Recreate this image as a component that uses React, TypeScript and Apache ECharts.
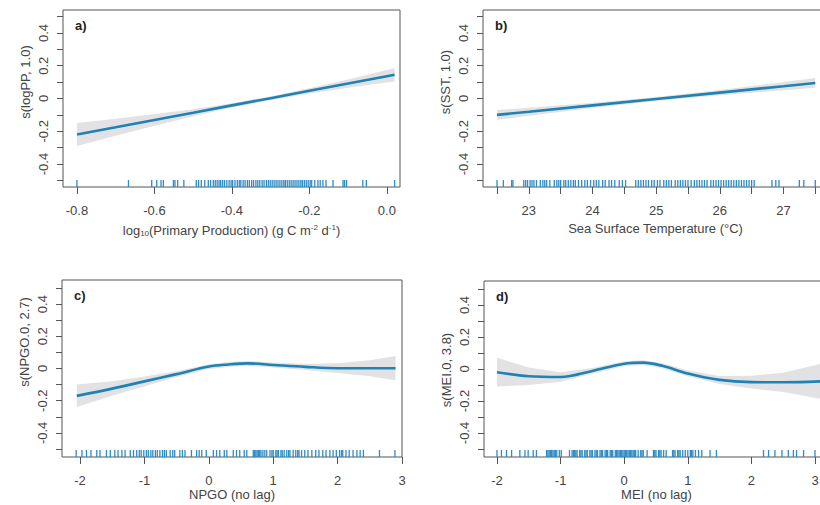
import React, { useEffect, useRef } from 'react';
import * as echarts from 'echarts';

// ---------- shared axis ticks ----------
const yTicks = [-0.5, -0.4, -0.3, -0.2, -0.1, 0, 0.1, 0.2, 0.3, 0.4, 0.5];
const yLabels = [-0.4, -0.2, 0, 0.2, 0.4];

// ---------- panel a : log10 primary production ----------
const aX = [-0.8, -0.7, -0.6, -0.5, -0.4, -0.3, -0.2, -0.1, 0.0, 0.02];
const aFit = [-0.22, -0.176, -0.131, -0.087, -0.042, 0.002, 0.047, 0.091, 0.136, 0.145];
const aUpper = [-0.15, -0.124, -0.095, -0.065, -0.029, 0.014, 0.063, 0.116, 0.174, 0.186];
const aLower = [-0.29, -0.228, -0.167, -0.109, -0.055, -0.01, 0.031, 0.066, 0.098, 0.104];
const aTicks = [-0.8, -0.6, -0.4, -0.2, 0.0];
const aRug = [
  -0.8, -0.667, -0.607, -0.594, -0.583, -0.577, -0.551, -0.547, -0.54, -0.524, -0.492, -0.486,
  -0.479, -0.47, -0.461, -0.455, -0.448, -0.443, -0.438, -0.433, -0.429, -0.424, -0.419, -0.413,
  -0.407, -0.402, -0.398, -0.392, -0.386, -0.381, -0.377, -0.371, -0.366, -0.36, -0.355, -0.349,
  -0.344, -0.338, -0.333, -0.328, -0.322, -0.317, -0.311, -0.306, -0.301, -0.296, -0.291, -0.286,
  -0.281, -0.276, -0.271, -0.266, -0.262, -0.257, -0.252, -0.247, -0.242, -0.237, -0.232, -0.227,
  -0.222, -0.218, -0.213, -0.208, -0.203, -0.198, -0.194, -0.186, -0.178, -0.172, -0.165, -0.157,
  -0.139, -0.113, -0.109, -0.104, -0.062, -0.053, 0.02,
];

// ---------- panel b : sea surface temperature ----------
const bX = [22.5, 23, 24, 25, 26, 27, 27.5];
const bFit = [-0.1, -0.081, -0.042, -0.003, 0.036, 0.075, 0.095];
const bUpper = [-0.07, -0.056, -0.026, 0.009, 0.052, 0.1, 0.125];
const bLower = [-0.13, -0.106, -0.058, -0.015, 0.02, 0.05, 0.065];
const bTicks = [22.5, 23, 23.5, 24, 24.5, 25, 25.5, 26, 26.5, 27, 27.5];
const bLabels = [23, 24, 25, 26, 27];
const bRug = [
  22.5, 22.6, 22.73, 22.75, 22.92, 22.95, 22.98, 23.02, 23.05, 23.08, 23.12, 23.18, 23.22, 23.25,
  23.28, 23.33, 23.4, 23.44, 23.47, 23.5, 23.55, 23.58, 23.62, 23.66, 23.7, 23.73, 23.78, 23.83,
  23.88, 23.92, 23.97, 24.02, 24.06, 24.1, 24.16, 24.2, 24.26, 24.3, 24.35, 24.42, 24.47, 24.52,
  24.68, 24.72, 24.76, 24.8, 24.84, 24.88, 24.93, 24.97, 25.02, 25.06, 25.12, 25.16, 25.2, 25.24,
  25.3, 25.34, 25.38, 25.42, 25.46, 25.5, 25.55, 25.6, 25.64, 25.68, 25.72, 25.76, 25.8, 25.86,
  25.9, 25.94, 25.98, 26.02, 26.06, 26.1, 26.14, 26.18, 26.22, 26.26, 26.3, 26.34, 26.38, 26.42,
  26.46, 26.5, 26.54, 26.82, 26.88, 26.93, 27.25, 27.32, 27.5,
];

// ---------- panel c : NPGO ----------
const cX = [-2.05, -1.5, -1.0, -0.5, 0.0, 0.3, 0.6, 1.0, 1.5, 2.0, 2.5, 2.9];
const cFit = [-0.17, -0.125, -0.08, -0.035, 0.012, 0.025, 0.032, 0.022, 0.01, 0.002, 0.002, 0.002];
const cUpper = [-0.1, -0.08, -0.05, -0.017, 0.027, 0.04, 0.047, 0.038, 0.03, 0.032, 0.052, 0.077];
const cLower = [-0.24, -0.17, -0.11, -0.053, -0.003, 0.01, 0.017, 0.006, -0.01, -0.028, -0.048, -0.073];
const cTicks = [-2, -1, 0, 1, 2, 3];
const cRug = [
  -2.06, -1.97, -1.9, -1.83, -1.74, -1.69, -1.59, -1.53, -1.46, -1.41, -1.35, -1.3, -1.22, -1.17,
  -1.12, -1.08, -1.05, -1.01, -0.97, -0.94, -0.9, -0.87, -0.83, -0.8, -0.76, -0.72, -0.69, -0.66,
  -0.6, -0.56, -0.53, -0.45, -0.41, -0.37, -0.27, -0.19, -0.15, -0.11, -0.04, 0.07, 0.12, 0.17,
  0.24, 0.28, 0.38, 0.43, 0.48, 0.55, 0.59, 0.69, 0.71, 0.73, 0.75, 0.77, 0.79, 0.81, 0.84, 0.87,
  0.9, 0.95, 0.98, 1.0, 1.04, 1.06, 1.08, 1.12, 1.14, 1.17, 1.21, 1.24, 1.26, 1.31, 1.35, 1.38,
  1.4, 1.44, 1.49, 1.54, 1.6, 1.66, 1.71, 1.77, 1.82, 1.88, 1.93, 1.98, 2.03, 2.06, 2.08, 2.13,
  2.18, 2.24, 2.3, 2.35, 2.4, 2.65, 2.89,
];

// ---------- panel d : MEI ----------
const dX = [-2.0, -1.5, -1.0, -0.5, 0.0, 0.3, 0.6, 1.0, 1.5, 2.0, 2.5, 3.1];
const dFit = [-0.02, -0.045, -0.05, -0.012, 0.033, 0.04, 0.02, -0.028, -0.068, -0.082, -0.083, -0.077];
const dUpper = [0.07, 0.01, -0.02, 0.006, 0.048, 0.055, 0.036, -0.01, -0.043, -0.042, -0.023, 0.033];
const dLower = [-0.11, -0.1, -0.08, -0.03, 0.018, 0.025, 0.004, -0.046, -0.093, -0.122, -0.143, -0.187];
const dTicks = [-2, -1, 0, 1, 2, 3];
const dRug = [
  -2.0, -1.93, -1.85, -1.77, -1.64, -1.56, -1.51, -1.43, -1.38, -1.22, -1.2, -1.18, -1.16, -1.14,
  -1.12, -1.1, -1.08, -1.06, -1.02, -0.99, -0.86, -0.82, -0.8, -0.78, -0.76, -0.74, -0.7, -0.68,
  -0.66, -0.62, -0.6, -0.58, -0.54, -0.52, -0.5, -0.46, -0.44, -0.42, -0.38, -0.36, -0.34, -0.3,
  -0.28, -0.26, -0.22, -0.2, -0.18, -0.14, -0.12, -0.1, -0.08, -0.06, -0.04, -0.02, 0.0, 0.02, 0.04,
  0.06, 0.08, 0.1, 0.12, 0.14, 0.16, 0.18, 0.22, 0.26, 0.28, 0.3, 0.36, 0.46, 0.48, 0.5, 0.54,
  0.56, 0.58, 0.62, 0.66, 0.76, 0.78, 0.8, 0.84, 0.86, 0.88, 0.92, 0.96, 1.0, 1.04, 1.06, 1.08,
  1.12, 1.17, 1.22, 1.35, 1.45, 2.19, 2.27, 2.37, 2.48, 2.58, 2.66, 2.71, 2.82, 3.0,
];

const FONT = '"Liberation Sans", Arial, Helvetica, sans-serif';
const TEXT = '#444';
const AXIS = '#555';
const LINE = '#1f82b5';
const BAND = '#e2e2e4';
const RUG = '#2f8bc4';

type Panel = {
  tag: string;
  x: number[];
  fit: number[];
  upper: number[];
  lower: number[];
  rug: number[];
  xTicks: number[];
  xLabels: number[];
  xDigits: number;
  xMin: number;
  xMax: number;
  yMin: number;
  yMax: number;
  grid: { left: number; top: number; width: number; height: number };
  xName: string;
  xNameGap: number;
  yName: string;
  yNameX: number;
  yNameY: number;
  smooth: number;
};

const panels: Panel[] = [
  {
    tag: 'a)', x: aX, fit: aFit, upper: aUpper, lower: aLower, rug: aRug,
    xTicks: aTicks, xLabels: aTicks, xDigits: 1, xMin: -0.836, xMax: 0.034,
    yMin: -0.54, yMax: 0.54, grid: { left: 63, top: 10, width: 337, height: 177 },
    xName: '{n|log}{sub|10}{n|(Primary Production) (g C m}{sup|-2}{n| d}{sup|-1}{n|)}',
    xNameGap: 36,
    yName: 's(logPP, 1.0)', yNameX: 25, yNameY: 82, smooth: 0,
  },
  {
    tag: 'b)', x: bX, fit: bFit, upper: bUpper, lower: bLower, rug: bRug,
    xTicks: bTicks, xLabels: bLabels, xDigits: 0, xMin: 22.28, xMax: 27.7,
    yMin: -0.54, yMax: 0.54, grid: { left: 483, top: 10, width: 345, height: 177 },
    xName: '{n|Sea Surface Temperature (°C)}',
    xNameGap: 35,
    yName: 's(SST, 1.0)', yNameX: 445, yNameY: 82, smooth: 0,
  },
  {
    tag: 'c)', x: cX, fit: cFit, upper: cUpper, lower: cLower, rug: cRug,
    xTicks: cTicks, xLabels: cTicks, xDigits: 0, xMin: -2.28, xMax: 3.0,
    yMin: -0.55, yMax: 0.55, grid: { left: 62, top: 280, width: 340, height: 177 },
    xName: '{n|NPGO (no lag)}',
    xNameGap: 31,
    yName: 's(NPGO.0, 2.7)', yNameX: 24, yNameY: 342, smooth: 0.35,
  },
  {
    tag: 'd)', x: dX, fit: dFit, upper: dUpper, lower: dLower, rug: dRug,
    xTicks: dTicks, xLabels: dTicks, xDigits: 0, xMin: -2.204, xMax: 3.22,
    yMin: -0.55, yMax: 0.55, grid: { left: 484, top: 281, width: 345, height: 176 },
    xName: '{n|MEI (no lag)}',
    xNameGap: 31,
    yName: 's(MEI.0, 3.8)', yNameX: 446, yNameY: 370, smooth: 0.35,
  },
];

function buildOption() {
  const grid: any[] = [];
  const xAxis: any[] = [];
  const yAxis: any[] = [];
  const series: any[] = [];
  const graphic: any[] = [];

  panels.forEach((p, i) => {
    grid.push({
      ...p.grid,
      show: true,
      borderColor: AXIS,
      borderWidth: 1,
      backgroundColor: 'transparent',
      containLabel: false,
      outerBoundsMode: 'none',
    });
    xAxis.push({
      type: 'value',
      gridIndex: i,
      min: p.xMin,
      max: p.xMax,
      axisLine: { show: false, onZero: false },
      splitLine: { show: false },
      axisTick: { show: true, length: 7, lineStyle: { color: AXIS }, customValues: p.xTicks },
      axisLabel: {
        show: true,
        customValues: p.xLabels,
        margin: 17,
        color: TEXT,
        fontSize: 13,
        fontFamily: FONT,
        formatter: (v: number) => v.toFixed(p.xDigits),
      },
      name: p.xName,
      nameLocation: 'middle',
      nameGap: p.xNameGap,
      nameTextStyle: {
        color: TEXT,
        fontFamily: FONT,
        rich: {
          n: { fontSize: 13, color: TEXT, fontFamily: FONT },
          sub: { fontSize: 8, color: TEXT, fontFamily: FONT, padding: [6, 0, 0, 0] },
          sup: { fontSize: 8, color: TEXT, fontFamily: FONT, padding: [0, 0, 6, 0] },
        },
      },
    });
    yAxis.push({
      type: 'value',
      gridIndex: i,
      min: p.yMin,
      max: p.yMax,
      axisLine: { show: false, onZero: false },
      splitLine: { show: false },
      axisTick: { show: true, length: 6, lineStyle: { color: AXIS }, customValues: yTicks },
      axisLabel: {
        show: true,
        customValues: yLabels,
        rotate: 90,
        margin: 13,
        color: TEXT,
        fontSize: 13,
        fontFamily: FONT,
        formatter: (v: number) => (Math.abs(v) < 1e-9 ? '0' : v.toFixed(1)),
      },
    });

    // confidence band
    series.push({
      type: 'custom',
      xAxisIndex: i,
      yAxisIndex: i,
      silent: true,
      z: 1,
      data: [[p.x[0], p.fit[0]]],
      renderItem: (params: any, api: any) => {
        if (params.dataIndex !== 0) return null;
        const pts: number[][] = [];
        for (let k = 0; k < p.x.length; k++) pts.push(api.coord([p.x[k], p.upper[k]]));
        for (let k = p.x.length - 1; k >= 0; k--) pts.push(api.coord([p.x[k], p.lower[k]]));
        return { type: 'polygon', shape: { points: pts }, style: { fill: BAND, stroke: null } };
      },
    });
    // fitted smooth
    series.push({
      type: 'line',
      xAxisIndex: i,
      yAxisIndex: i,
      z: 3,
      data: p.x.map((x, k) => [x, p.fit[k]]),
      showSymbol: false,
      smooth: p.smooth,
      lineStyle: { color: LINE, width: 2.6 },
    });
    // rug
    series.push({
      type: 'custom',
      xAxisIndex: i,
      yAxisIndex: i,
      silent: true,
      z: 2,
      data: p.rug.map((x) => [x, p.yMin]),
      renderItem: (params: any, api: any) => {
        const pt = api.coord([api.value(0), api.value(1)]);
        return {
          type: 'line',
          shape: { x1: pt[0], y1: pt[1], x2: pt[0], y2: pt[1] - 7 },
          style: { stroke: RUG, lineWidth: 1.3 },
        };
      },
    });

    graphic.push({
      type: 'text',
      x: p.grid.left + 12,
      y: p.grid.top + 9,
      style: { text: p.tag, fontSize: 13, fontWeight: 'bold', fill: '#222', fontFamily: FONT },
    });
    graphic.push({
      type: 'text',
      x: p.yNameX,
      y: p.yNameY,
      rotation: Math.PI / 2,
      style: {
        text: p.yName,
        fontSize: 13,
        fill: TEXT,
        fontFamily: FONT,
        align: 'center',
        verticalAlign: 'middle',
      },
    });
  });

  return {
    animation: false,
    backgroundColor: '#fff',
    textStyle: { fontFamily: FONT },
    grid,
    xAxis,
    yAxis,
    series,
    graphic,
  };
}

export default function App() {
  const ref = useRef<HTMLDivElement>(null);
  useEffect(() => {
    if (!ref.current) return;
    const chart = echarts.init(ref.current, null, { renderer: 'svg' });
    chart.setOption(buildOption() as any);
    return () => chart.dispose();
  }, []);
  return (
    <div
      ref={ref}
      style={{ position: 'fixed', left: 0, top: 0, width: 820, height: 505, background: '#fff' }}
    />
  );
}
